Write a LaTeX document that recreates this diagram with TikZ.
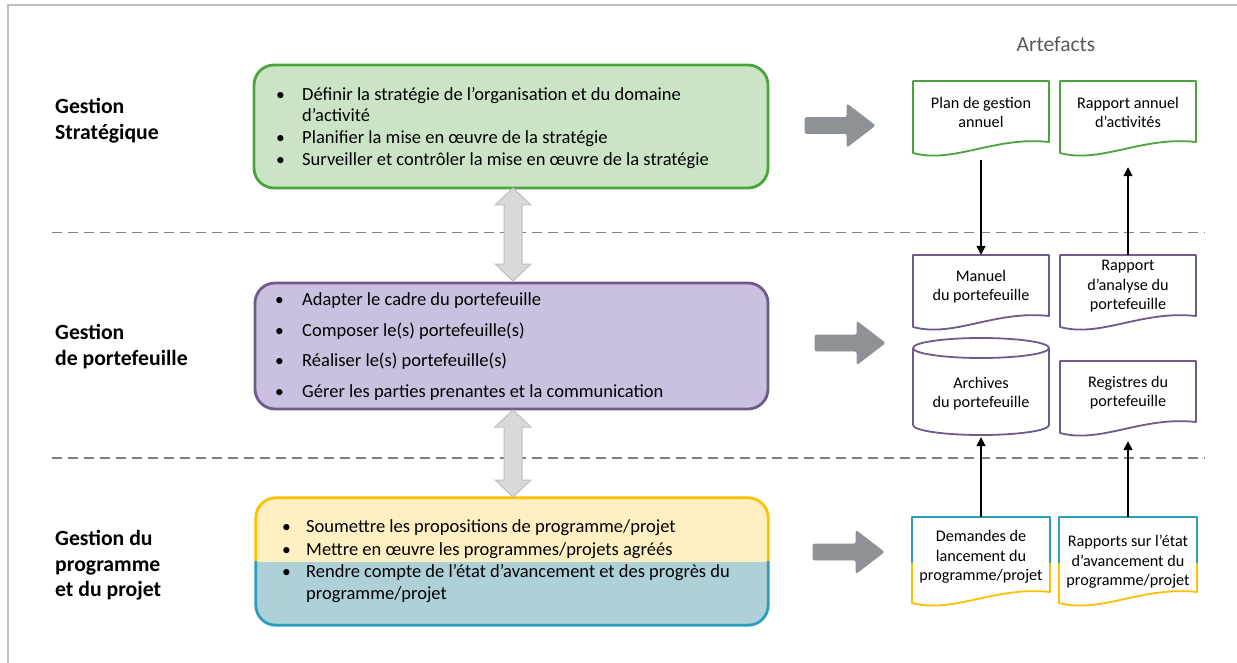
\documentclass[tikz,border=0pt]{standalone}
\usepackage{fontspec}
\setmainfont{Carlito}
\usetikzlibrary{arrows.meta,calc}
\definecolor{frameg}{HTML}{BFBFBF}
\definecolor{dashg}{HTML}{808080}
\definecolor{artg}{HTML}{595959}
\definecolor{sgreen}{HTML}{4AA33C}
\definecolor{lgreen}{HTML}{CCE4C6}
\definecolor{spurple}{HTML}{6E5B8A}
\definecolor{lpurple}{HTML}{CBC0DF}
\definecolor{syellow}{HTML}{FFC000}
\definecolor{lyellow}{HTML}{FFF0C4}
\definecolor{sblue}{HTML}{2A9DC0}
\definecolor{lblue}{HTML}{AED0D7}
\definecolor{arrowg}{HTML}{8E9196}
\definecolor{dblfill}{HTML}{D9D9D9}
\definecolor{dbldraw}{HTML}{BFBFBF}
\newcommand\artpath[4]{(#1,#2) -- (#3,#2) -- (#3,{#4-11}) .. controls ({#1+0.6*(#3-#1)},{#4-17}) and ({#1+0.3*(#3-#1)},{#4+11}) .. (#1,#4) -- cycle}
\newcommand\rarrowpath[3]{(#1,{#3-8}) -- ({#2-28},{#3-8}) -- ({#2-28},{#3-21.5}) -- (#2,#3) -- ({#2-28},{#3+21.5}) -- ({#2-28},{#3+8}) -- (#1,{#3+8}) -- cycle}
\newcommand\dblpath[2]{(513,#1) -- (531,{#1+17}) -- (522,{#1+17}) -- (522,{#2-17}) -- (531,{#2-17}) -- (513,#2) -- (495,{#2-17}) -- (504,{#2-17}) -- (504,{#1+17}) -- (495,{#1+17}) -- cycle}
\begin{document}
\begin{tikzpicture}[x=1pt,y=-1pt,
  btxt/.style={anchor=mid west, inner sep=0pt, font=\fontsize{18.5}{22}\selectfont},
  bul/.style={anchor=mid west, inner sep=0pt, font=\fontsize{17.5}{21}\selectfont},
  lbl/.style={anchor=mid west, inner sep=0pt, font=\fontsize{21.7}{26}\selectfont\bfseries},
  doctxt/.style={align=center, inner sep=0pt, font=\fontsize{16.2}{19.5}\selectfont},
  docbox/.style={inner sep=0pt, minimum width=136pt},
  bigbox/.style={inner sep=0pt, rounded corners=20pt, line width=2.8pt},
  docline/.style={line width=1.8pt, line join=round},
  conn/.style={line width=1.6pt, -{Triangle[width=9pt,length=9pt]}},
  sepline/.style={dashg, line width=1.8pt, dash pattern=on 10pt off 6pt},
  rarrow/.style={fill=arrowg, draw=arrowg, line width=0.8pt, rounded corners=2pt},
  dblarrow/.style={fill=dblfill, draw=dbldraw, line width=1pt, line join=miter}
]
\useasboundingbox (0,0) rectangle (1237,663);
\fill[white] (0,0) rectangle (1237,663);
% frame
\draw[frameg, line width=2pt] (8,663) -- (8,5) -- (1237,5);
% separators
\draw[sepline] (52,232.5) -- (1205,232.5);
\draw[sepline] (52,458) -- (1205,458);
% left labels
\node[lbl] (l1a) at (55,111) {Gestion};
\node[lbl] (l1b) at (55,137) {Stratégique};
\node[lbl] (l2a) at (55,337) {Gestion};
\node[lbl] (l2b) at (55,363) {de portefeuille};
\node[lbl] (l3a) at (55,543) {Gestion du};
\node[lbl] (l3b) at (55,569) {programme};
\node[lbl] (l3c) at (55,594) {et du projet};
% big boxes
\node[bigbox, draw=sgreen, fill=lgreen, minimum width=514pt, minimum height=123pt] (strat) at (511,126.5) {};
\node[bigbox, draw=spurple, fill=lpurple, minimum width=513pt, minimum height=126pt] (port) at (511.5,346) {};
\node[inner sep=0pt, minimum width=512pt, minimum height=127pt] (prog) at (512,561.5) {};
\fill[lblue, rounded corners=20pt] (prog.north west) rectangle (prog.south east);
\begin{scope}
  \clip (0,0) rectangle (1237,561);
  \fill[lyellow, rounded corners=20pt] (prog.north west) rectangle (prog.south east);
  \draw[syellow, line width=2.8pt, rounded corners=20pt] (prog.north west) rectangle (prog.south east);
\end{scope}
\begin{scope}
  \clip (0,561) rectangle (1237,663);
  \draw[sblue, line width=2.8pt, rounded corners=20pt] (prog.north west) rectangle (prog.south east);
\end{scope}
% green text
\node[bul] (gb1) at (276,98) {•};
\node[btxt] (g1) at (302,98) {Définir la stratégie de l’organisation et du domaine};
\node[btxt] (g1b) at (302,119) {d’activité};
\node[bul] (gb2) at (276,141) {•};
\node[btxt] (g2) at (302,141) {Planifier la mise en œuvre de la stratégie};
\node[bul] (gb3) at (276,163) {•};
\node[btxt] (g3) at (302,163) {Surveiller et contrôler la mise en œuvre de la stratégie};
% purple text
\node[bul] (pb1) at (275,303) {•};
\node[btxt] (p1) at (302,303) {Adapter le cadre du portefeuille};
\node[bul] (pb2) at (275,334) {•};
\node[btxt] (p2) at (302,334) {Composer le(s) portefeuille(s)};
\node[bul] (pb3) at (275,364) {•};
\node[btxt] (p3) at (302,364) {Réaliser le(s) portefeuille(s)};
\node[bul] (pb4) at (275,395) {•};
\node[btxt] (p4) at (302,395) {Gérer les parties prenantes et la communication};
% bottom text
\node[bul] (bb1) at (282,530) {•};
\node[btxt] (b1) at (306,530) {Soumettre les propositions de programme/projet};
\node[bul] (bb2) at (282,553) {•};
\node[btxt] (b2) at (306,553) {Mettre en œuvre les programmes/projets agréés};
\node[bul] (bb3) at (282,575) {•};
\node[btxt] (b3) at (306,575) {Rendre compte de l’état d’avancement et des progrès du};
\node[btxt] (b3b) at (306,597) {programme/projet};
% double arrows
\draw[dblarrow] \dblpath{188}{281};
\draw[dblarrow] \dblpath{410}{497};
% right arrows
\draw[rarrow] \rarrowpath{805}{875}{125.5};
\draw[rarrow] \rarrowpath{815}{885}{343};
\draw[rarrow] \rarrowpath{813}{884}{552};
% artefacts title
\node[inner sep=0pt, text=artg, font=\fontsize{21.5}{26}\selectfont] (arttitle) at (1056,44) {Artefacts};
% documents
\node[docbox, minimum height=72pt] (planbox) at (981,117) {};
\node[docbox, minimum height=72pt] (annbox) at (1128,117) {};
\node[docbox, minimum height=72pt] (manbox) at (981,291) {};
\node[docbox, minimum height=72pt] (anabox) at (1128,291) {};
\node[docbox, minimum height=97pt] (archbox) at (981,386.5) {};
\node[docbox, minimum height=72pt] (regbox) at (1128,397) {};
\node[docbox, minimum height=86pt] (dembox) at (981,560) {};
\node[docbox, minimum height=86pt] (rapbox) at (1128,560) {};
\draw[docline, sgreen] \artpath{913}{81}{1049}{153};
\draw[docline, sgreen] \artpath{1060}{81}{1196}{153};
\draw[docline, spurple] \artpath{913}{255}{1049}{327};
\draw[docline, spurple] \artpath{1060}{255}{1196}{327};
\draw[docline, spurple] \artpath{1060}{361}{1196}{433};
\draw[docline, spurple] (913,348) -- (913,425) arc[start angle=180, end angle=360, x radius=68pt, y radius=10pt] -- (1049,348);
\draw[docline, spurple] (981,348) ellipse[x radius=68pt, y radius=10pt];
\draw[docline, syellow] \artpath{912}{517}{1050}{603};
\draw[docline, syellow] \artpath{1059}{517}{1197}{603};
\begin{scope}
  \clip (900,500) rectangle (1210,562);
  \draw[docline, sblue] \artpath{912}{517}{1050}{603};
  \draw[docline, sblue] \artpath{1059}{517}{1197}{603};
\end{scope}
\node[doctxt] (plan) at (981,112.5) {Plan de gestion\\annuel};
\node[doctxt] (ann) at (1128,112.5) {Rapport annuel\\d’activités};
\node[doctxt] (man) at (981,286.5) {Manuel\\du portefeuille};
\node[doctxt] (ana) at (1128,286.5) {Rapport\\d’analyse du\\portefeuille};
\node[doctxt] (arch) at (981,393.5) {Archives\\du portefeuille};
\node[doctxt] (reg) at (1128,392.5) {Registres du\\portefeuille};
\node[doctxt] (dem) at (981,557) {Demandes de\\lancement du\\programme/projet};
\node[doctxt] (rap) at (1128,562) {Rapports sur l’état\\d’avancement du\\programme/projet};
% connectors
\draw[conn, shorten <=7pt] (planbox.south) -- (manbox.north);
\draw[conn, shorten >=14pt] (anabox.north) -- (annbox.south);
\draw[conn, shorten >=2pt] (dembox.north) -- (archbox.south);
\draw[conn, shorten >=8pt] (rapbox.north) -- (regbox.south);
\end{tikzpicture}
\end{document}
